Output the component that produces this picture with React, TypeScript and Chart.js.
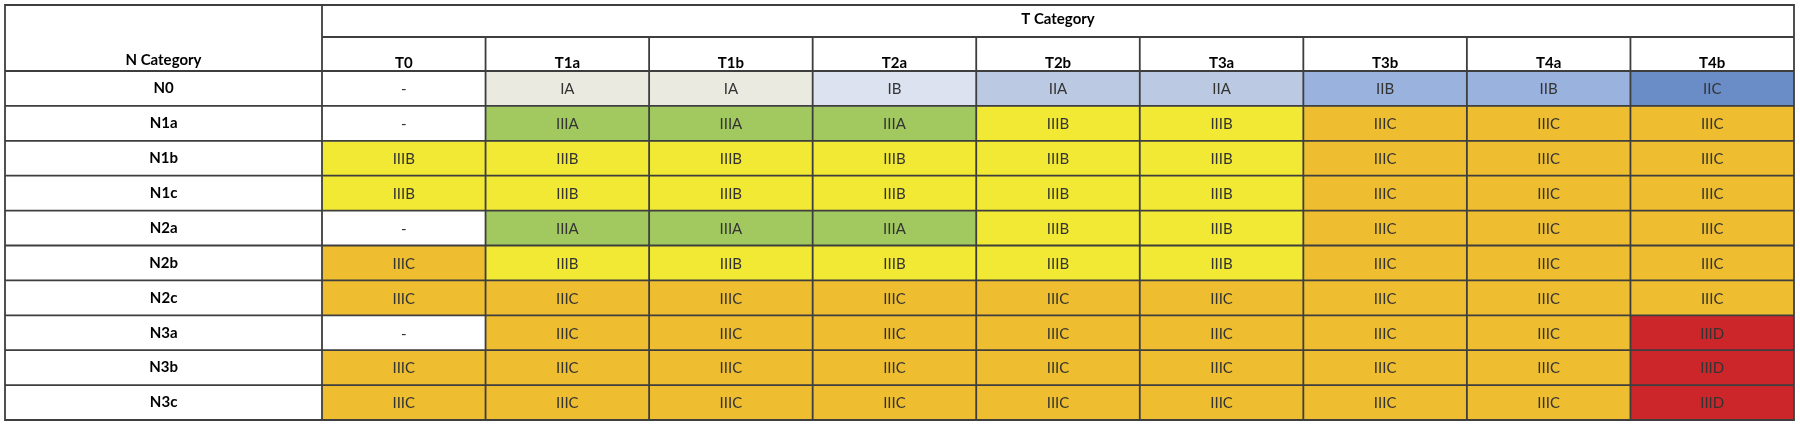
import React, { useEffect, useRef } from 'react';
import { Chart, registerables } from 'chart.js';

Chart.register(...registerables);

const T_CATEGORIES = ['T0', 'T1a', 'T1b', 'T2a', 'T2b', 'T3a', 'T3b', 'T4a', 'T4b'];
const N_CATEGORIES = ['N0', 'N1a', 'N1b', 'N1c', 'N2a', 'N2b', 'N2c', 'N3a', 'N3b', 'N3c'];

const STAGE_N0 = ['-', 'IA', 'IA', 'IB', 'IIA', 'IIA', 'IIB', 'IIB', 'IIC'];
const STAGE_N1A = ['-', 'IIIA', 'IIIA', 'IIIA', 'IIIB', 'IIIB', 'IIIC', 'IIIC', 'IIIC'];
const STAGE_N1B = ['IIIB', 'IIIB', 'IIIB', 'IIIB', 'IIIB', 'IIIB', 'IIIC', 'IIIC', 'IIIC'];
const STAGE_N1C = ['IIIB', 'IIIB', 'IIIB', 'IIIB', 'IIIB', 'IIIB', 'IIIC', 'IIIC', 'IIIC'];
const STAGE_N2A = ['-', 'IIIA', 'IIIA', 'IIIA', 'IIIB', 'IIIB', 'IIIC', 'IIIC', 'IIIC'];
const STAGE_N2B = ['IIIC', 'IIIB', 'IIIB', 'IIIB', 'IIIB', 'IIIB', 'IIIC', 'IIIC', 'IIIC'];
const STAGE_N2C = ['IIIC', 'IIIC', 'IIIC', 'IIIC', 'IIIC', 'IIIC', 'IIIC', 'IIIC', 'IIIC'];
const STAGE_N3A = ['-', 'IIIC', 'IIIC', 'IIIC', 'IIIC', 'IIIC', 'IIIC', 'IIIC', 'IIID'];
const STAGE_N3B = ['IIIC', 'IIIC', 'IIIC', 'IIIC', 'IIIC', 'IIIC', 'IIIC', 'IIIC', 'IIID'];
const STAGE_N3C = ['IIIC', 'IIIC', 'IIIC', 'IIIC', 'IIIC', 'IIIC', 'IIIC', 'IIIC', 'IIID'];

const STAGE_ROWS = [
  STAGE_N0, STAGE_N1A, STAGE_N1B, STAGE_N1C, STAGE_N2A,
  STAGE_N2B, STAGE_N2C, STAGE_N3A, STAGE_N3B, STAGE_N3C,
];

const STAGE_COLORS: Record<string, string> = {
  '-': '#FFFFFF',
  IA: '#EAEAE0',
  IB: '#DCE2EF',
  IIA: '#BBCAE2',
  IIB: '#99B2DE',
  IIC: '#6A8CC7',
  IIIA: '#A2C95F',
  IIIB: '#F1E934',
  IIIC: '#EEBE30',
  IIID: '#CC262B',
};

const COL_TITLE = 'T Category';
const ROW_TITLE = 'N Category';

const FONT_FAMILY = 'Lato, "Open Sans", sans-serif';
const LINE_COLOR = '#3e3e3e';
const TEXT_COLOR = '#333333';
const HEADER_ROW1 = 32;
const HEADER_ROW2 = 34;
const LEFT_COL = 317;
const OUTER = 5;

export default function App() {
  const ref = useRef<HTMLCanvasElement>(null);

  useEffect(() => {
    if (!ref.current) return;

    const tablePlugin = {
      id: 'tableDecor',
      afterDatasetsDraw(chart: any) {
        const { ctx, chartArea, scales } = chart;
        const xs = scales.x;
        const ys = scales.y;
        const left = OUTER;
        const top = OUTER;
        const right = chartArea.right;
        const bottom = chartArea.bottom;
        const half = (xs.getPixelForValue(1) - xs.getPixelForValue(0)) / 2;
        const headerMid = chartArea.top - HEADER_ROW2;

        ctx.save();
        // cell labels
        ctx.font = `15px ${FONT_FAMILY}`;
        ctx.fillStyle = TEXT_COLOR;
        ctx.textAlign = 'center';
        ctx.textBaseline = 'middle';
        chart.data.datasets.forEach((ds: any, di: number) => {
          const meta = chart.getDatasetMeta(di);
          meta.data.forEach((el: any, ci: number) => {
            const p = el.getProps(['x', 'y', 'base'], true);
            ctx.fillText(STAGE_ROWS[di][ci], p.x, (p.y + p.base) / 2 + 1);
          });
        });

        // header titles
        ctx.font = `bold 15px ${FONT_FAMILY}`;
        ctx.fillStyle = '#000000';
        ctx.fillText(COL_TITLE, (chartArea.left + right) / 2, (top + headerMid) / 2 - 2);
        ctx.fillText(ROW_TITLE, (left + chartArea.left) / 2, chartArea.top - 11);

        // grid lines
        ctx.strokeStyle = LINE_COLOR;
        ctx.lineWidth = 1.8;
        ctx.beginPath();
        ctx.rect(left, top, right - left, bottom - top);
        ctx.moveTo(chartArea.left, top);
        ctx.lineTo(chartArea.left, bottom);
        ctx.moveTo(chartArea.left, headerMid);
        ctx.lineTo(right, headerMid);
        for (let i = 1; i < T_CATEGORIES.length; i++) {
          const x = xs.getPixelForValue(i) - half;
          ctx.moveTo(x, headerMid);
          ctx.lineTo(x, bottom);
        }
        for (let i = 0; i < N_CATEGORIES.length; i++) {
          const y = ys.getPixelForValue(i);
          ctx.moveTo(left, y);
          ctx.lineTo(right, y);
        }
        ctx.stroke();
        ctx.restore();
      },
    };

    const chart = new Chart(ref.current, {
      type: 'bar',
      data: {
        labels: T_CATEGORIES,
        datasets: N_CATEGORIES.map((n, i) => ({
          label: n,
          data: T_CATEGORIES.map(() => [i, i + 1]) as any,
          backgroundColor: STAGE_ROWS[i].map((s) => STAGE_COLORS[s]),
          borderWidth: 0,
          barPercentage: 1,
          categoryPercentage: 1,
          grouped: false,
        })),
      },
      options: {
        animation: false,
        responsive: false,
        events: [],
        layout: { padding: { left: OUTER, top: OUTER, right: 6, bottom: 5 } },
        plugins: {
          legend: { display: false },
          tooltip: { enabled: false },
        },
        scales: {
          x: {
            type: 'category',
            position: 'top',
            grid: { display: false, drawTicks: false },
            border: { display: false },
            ticks: {
              color: '#000000',
              font: { family: FONT_FAMILY, size: 15, weight: 'bold' },
              padding: -1,
              maxRotation: 0,
              autoSkip: false,
            },
            afterFit: (scale: any) => {
              scale.height = HEADER_ROW1 + HEADER_ROW2;
              scale.paddingLeft = 0;
              scale.paddingRight = 0;
            },
          },
          y: {
            type: 'linear',
            min: 0,
            max: N_CATEGORIES.length,
            reverse: true,
            grid: { display: false, drawTicks: false },
            border: { display: false },
            afterBuildTicks: (scale: any) => {
              scale.ticks = N_CATEGORIES.map((_, i) => ({ value: i + 0.5 }));
            },
            ticks: {
              color: '#000000',
              font: { family: FONT_FAMILY, size: 15, weight: 'bold' },
              crossAlign: 'center',
              padding: 144,
              autoSkip: false,
              callback: (value: any) => N_CATEGORIES[Math.floor(Number(value))],
            },
            afterFit: (scale: any) => {
              scale.width = LEFT_COL;
              scale.paddingTop = 0;
              scale.paddingBottom = 0;
            },
          },
        },
      },
      plugins: [tablePlugin],
    });

    return () => chart.destroy();
  }, []);

  return (
    <div style={{ position: 'fixed', left: 0, top: 0, width: 1800, height: 425, background: '#ffffff' }}>
      <canvas ref={ref} width={1800} height={425} />
    </div>
  );
}
